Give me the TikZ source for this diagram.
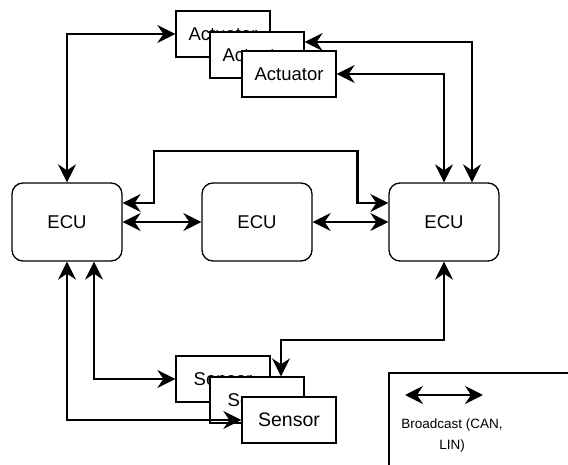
\documentclass[tikz,border=0pt]{standalone}
\usepackage{fontspec}
\setmainfont{Liberation Sans}
\usetikzlibrary{arrows.meta}
\begin{document}
\begin{tikzpicture}[x=1pt,y=-1pt,
  ecubox/.style={draw, line width=1.3pt, rounded corners=11pt, fill=white,
    minimum width=110pt, minimum height=78pt, inner sep=0pt,
    font=\fontsize{18.5}{22}\selectfont},
  devbox/.style={draw, line width=1.3pt, fill=white,
    minimum width=94pt, minimum height=46pt, inner sep=0pt,
    font=\fontsize{18.5}{22}\selectfont},
  conn/.style={line width=2.3pt,
    {Stealth[length=18pt,width=18pt,inset=6pt]}-{Stealth[length=18pt,width=18pt,inset=6pt]}},
  frame/.style={line width=1.3pt}
]
\useasboundingbox (0,0) rectangle (568,465);

% control units
\node[ecubox] (ecuL) at (67,222) {ECU};
\node[ecubox] (ecuM) at (257,222) {ECU};
\node[ecubox] (ecuR) at (444,222) {ECU};

% stacked actuators
\node[devbox] (act1) at (223,34) {Actuator};
\node[devbox] (act2) at (257,55) {Actuator};
\node[devbox] (act3) at (289,74) {Actuator};

% stacked sensors
\node[devbox] (sen1) at (223,379) {Sensor};
\node[devbox] (sen2) at (257,400) {Sensor};
\node[devbox, font=\fontsize{19.5}{22}\selectfont] (sen3) at (289,420) {Sensor};

% bus links
\draw[conn] (ecuL.north) |- (act1.west);
\draw[conn] ([yshift=13pt]act2.east) -| ([xshift=28pt]ecuR.north);
\draw[conn] (act3.east) -| (ecuR.north);
\draw[conn] (ecuL.east) -- (ecuM.west);
\draw[conn] (ecuM.east) -- (ecuR.west);
\draw[conn] ([yshift=19pt]ecuL.east) -- ++(31,0) -- ++(0,-52)
  -| ([xshift=-31pt,yshift=19pt]ecuR.west) -- ([yshift=19pt]ecuR.west);
\draw[conn] ([xshift=27pt]ecuL.south) |- (sen1.west);
\draw[conn] (ecuL.south) |- (sen3.west);
\draw[conn] (ecuR.south) -- ++(0,78) -| ([xshift=24pt]sen2.north);

% legend
\coordinate (legTL) at (389,373);
\draw[frame] (568,373) -- (legTL) -- (389,465);
\coordinate (legA) at (405,395);
\coordinate (legB) at (483,395);
\draw[conn] (legA) -- (legB);
\node[align=center, font=\fontsize{13.5}{21}\selectfont] (legtxt) at (452,436)
  {Broadcast (CAN,\\LIN)};
\end{tikzpicture}
\end{document}
